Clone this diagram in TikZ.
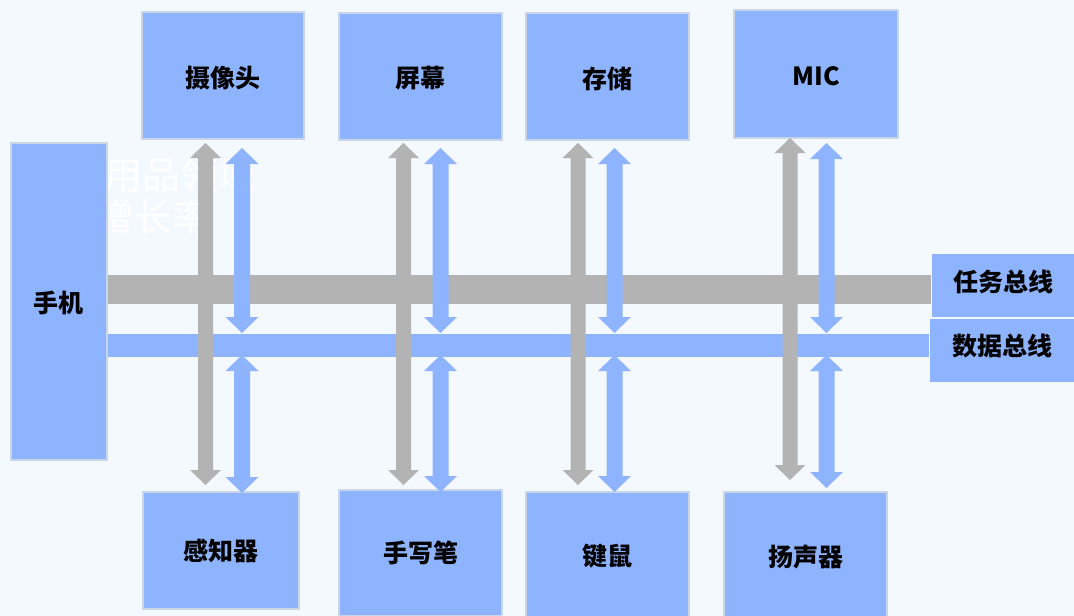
\documentclass[tikz,border=0pt]{standalone}
\usepackage{fontspec}
\newfontfamily\cjk{Noto Sans CJK SC}
\usetikzlibrary{calc}
\definecolor{bgc}{RGB}{244,248,255}
\definecolor{boxfill}{RGB}{143,180,255}
\definecolor{boxline}{RGB}{200,214,232}
\definecolor{busgray}{RGB}{179,179,179}
\newcommand\fatdbl[6]{% color, from, to, half shaft, half head, head length
  \fill[#1] let \p1=(#2), \p2=(#3) in
    (\x1,\y1) -- (\x1+#5,\y1-#6) -- (\x1+#4,\y1-#6) -- (\x1+#4,\y2+#6) -- (\x1+#5,\y2+#6)
    -- (\x2,\y2) -- (\x1-#5,\y2+#6) -- (\x1-#4,\y2+#6) -- (\x1-#4,\y1-#6) -- (\x1-#5,\y1-#6) -- cycle;}
\newcommand\shiftv[2]{\raisebox{#1}[\height][\depth]{#2}}
\begin{document}
\begin{tikzpicture}[x=1pt,y=-1pt,
  box/.style={draw=boxline, line width=2.2pt, fill=boxfill, inner sep=0pt,
    font=\cjk\bfseries\fontsize{25}{30}\selectfont, text=black},
  lab/.style={fill=boxfill, draw=bgc, line width=0.8pt, inner sep=0pt,
    font=\cjk\bfseries\fontsize{25}{30}\selectfont, text=black},
  ghost/.style={text=white, inner sep=0pt, anchor=west,
    font=\cjk\fontsize{38}{42}\selectfont}]
\useasboundingbox (0,0) rectangle (1074,616);
\fill[bgc] (0,0) rectangle (1074,616);
% faint background text
\node[ghost] (g1) at (104,175) {用品领域};
\node[ghost] (g2) at (96,217) {增长率};
% boxes
\node[box, minimum width=96pt, minimum height=317pt] (phone) at (59,301.5) {\shiftv{-1.5pt}{手机}};
\node[box, minimum width=162pt, minimum height=127pt] (cam) at (223,75.5) {\shiftv{-2.5pt}{摄像头}};
\node[box, minimum width=163pt, minimum height=127pt] (scr) at (420.5,76.5) {\shiftv{-2pt}{屏幕}};
\node[box, minimum width=163pt, minimum height=127pt] (sto) at (607.5,76.5) {\shiftv{-2pt}{存储}};
\node[box, minimum width=164pt, minimum height=128pt] (mic) at (816,74) {\shiftv{-2pt}{MIC}};
\node[box, minimum width=156pt, minimum height=117pt] (sens) at (221,550.5) {感知器};
\node[box, minimum width=163pt, minimum height=126pt] (pen) at (420.5,553) {手写笔};
\node[box, minimum width=163pt, minimum height=128pt] (kbd) at (607.5,556) {键鼠};
\node[box, minimum width=163pt, minimum height=130pt] (spk) at (805.5,557) {扬声器};
% bus rows and label edges
\path (0,289.5) coordinate (ty) (0,345.5) coordinate (dy);
\path (931,0) coordinate (tx) (929,0) coordinate (dx);
% buses
\draw[busgray, line width=29pt] (phone.east |- ty) -- (tx |- ty);
\draw[boxfill, line width=23pt] (phone.east |- dy) -- (dx |- dy);
% arrow end points
\coordinate (g1a) at (205.5,143); \coordinate (g1b) at (205.5,485);
\coordinate (b1a) at (242,148);   \coordinate (b1b) at (242,333);
\coordinate (b1c) at (242,355);   \coordinate (b1d) at (242,493);
\coordinate (g2a) at (403.5,143); \coordinate (g2b) at (403.5,485);
\coordinate (b2a) at (440.5,148); \coordinate (b2b) at (440.5,333);
\coordinate (b2c) at (440.5,355); \coordinate (b2d) at (440.5,492);
\coordinate (g3a) at (578,143);   \coordinate (g3b) at (578,485);
\coordinate (b3a) at (614.5,148); \coordinate (b3b) at (614.5,333);
\coordinate (b3c) at (614.5,355); \coordinate (b3d) at (614.5,492);
\coordinate (g4a) at (790,138);   \coordinate (g4b) at (790,480);
\coordinate (b4a) at (826.5,143); \coordinate (b4b) at (826.5,333);
\coordinate (b4c) at (826.5,355); \coordinate (b4d) at (826.5,488);
% gray arrows
\fatdbl{busgray}{g1a}{g1b}{7.5pt}{15.5pt}{15pt}
\fatdbl{busgray}{g2a}{g2b}{7.5pt}{15.5pt}{15pt}
\fatdbl{busgray}{g3a}{g3b}{7.5pt}{15.5pt}{15pt}
\fatdbl{busgray}{g4a}{g4b}{7.5pt}{15.5pt}{15pt}
% blue arrows
\fatdbl{boxfill}{b1a}{b1b}{8pt}{16.5pt}{16pt}
\fatdbl{boxfill}{b1c}{b1d}{8pt}{16.5pt}{16pt}
\fatdbl{boxfill}{b2a}{b2b}{8pt}{16.5pt}{16pt}
\fatdbl{boxfill}{b2c}{b2d}{8pt}{16.5pt}{16pt}
\fatdbl{boxfill}{b3a}{b3b}{8pt}{16.5pt}{16pt}
\fatdbl{boxfill}{b3c}{b3d}{8pt}{16.5pt}{16pt}
\fatdbl{boxfill}{b4a}{b4b}{8pt}{16.5pt}{16pt}
\fatdbl{boxfill}{b4c}{b4d}{8pt}{16.5pt}{16pt}
% bus label boxes
\node[lab, minimum width=150pt, minimum height=64pt] (task) at (1006,285) {\hspace*{-6pt}\shiftv{3pt}{任务总线}};
\node[lab, minimum width=150pt, minimum height=64pt] (data) at (1004,350) {\hspace*{-4pt}\shiftv{4pt}{数据总线}};
\end{tikzpicture}
\end{document}
